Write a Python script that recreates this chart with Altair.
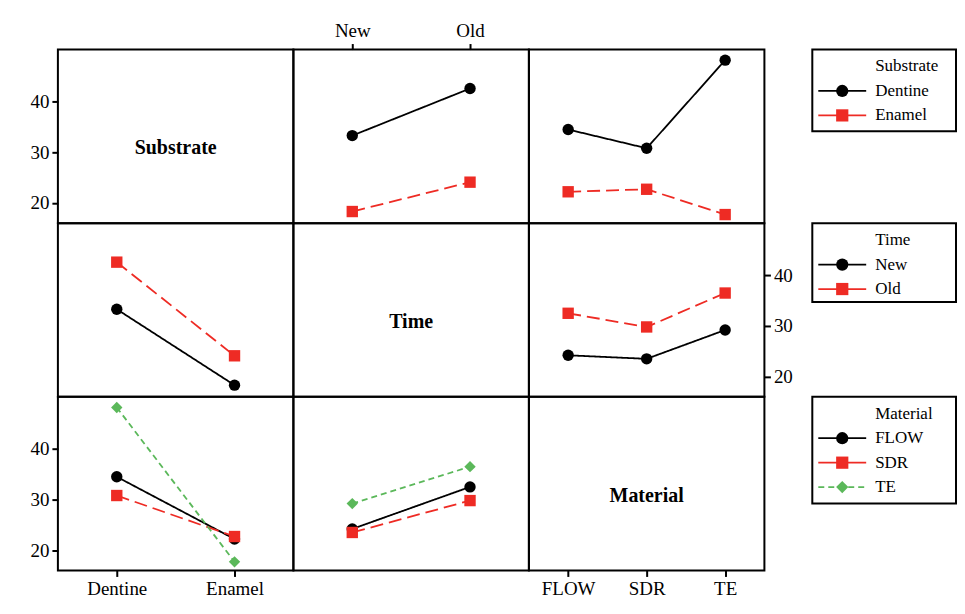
import altair as alt
import pandas as pd

# ---- categories ----
substrate = ["Dentine", "Enamel"]
time_lv = ["New", "Old"]
material = ["FLOW", "SDR", "TE"]

# ---- interaction means ----
dentine_by_time = [33.3, 42.6]
enamel_by_time = [18.3, 24.1]
dentine_by_material = [34.5, 30.8, 48.2]
enamel_by_material = [22.2, 22.7, 17.7]
new_by_material = [24.2, 23.5, 29.2]
old_by_material = [32.5, 29.8, 36.5]

y_ticks = [20, 30, 40]
y_domain = [16, 50.3]

series_domain = ["Dentine", "Enamel", "New", "Old", "FLOW", "SDR", "TE"]
BLACK, RED, GREEN = "#000000", "#ee2b24", "#5bb85a"
color_range = [BLACK, RED, BLACK, RED, BLACK, RED, GREEN]
shape_range = ["circle", "square", "circle", "square", "circle", "square", "diamond"]
dash_range = [[1, 0], [13, 6], [1, 0], [13, 6], [1, 0], [13, 6], [6, 4]]

FONT = "Liberation Serif"
W, H = 236, 174

# ---- long tables ----
st_rows = []
for s, vals in zip(substrate, [dentine_by_time, enamel_by_time]):
    for t, v in zip(time_lv, vals):
        st_rows.append({"Substrate": s, "Time": t, "Mean": v})
st = pd.DataFrame(st_rows)

sm_rows = []
for s, vals in zip(substrate, [dentine_by_material, enamel_by_material]):
    for m, v in zip(material, vals):
        sm_rows.append({"Substrate": s, "Material": m, "Mean": v})
sm = pd.DataFrame(sm_rows)

tm_rows = []
for t, vals in zip(time_lv, [new_by_material, old_by_material]):
    for m, v in zip(material, vals):
        tm_rows.append({"Time": t, "Material": m, "Mean": v})
tm = pd.DataFrame(tm_rows)

levels = {"Substrate": substrate, "Time": time_lv, "Material": material}

color_scale = alt.Scale(domain=series_domain, range=color_range)
shape_scale = alt.Scale(domain=series_domain, range=shape_range)
dash_scale = alt.Scale(domain=series_domain, range=dash_range)


def x_axis(orient):
    if orient is None:
        return None
    return alt.Axis(orient=orient, title=None, domain=False, grid=False, ticks=True,
                    tickSize=6, tickWidth=2, tickColor="black", labelAngle=0,
                    labelFont=FONT, labelFontSize=19, labelColor="black", labelPadding=3)


def y_axis(orient):
    if orient is None:
        return None
    return alt.Axis(orient=orient, title=None, domain=False, grid=False, values=y_ticks,
                    tickSize=6, tickWidth=2, tickColor="black",
                    labelFont=FONT, labelFontSize=19, labelColor="black", labelPadding=3)


def y_enc(orient=None):
    return alt.Y("Mean:Q", scale=alt.Scale(domain=y_domain, nice=False, zero=False),
                 axis=y_axis(orient))


def interaction(df, xvar, svar, xorient=None, yorient=None):
    xe = alt.X(f"{xvar}:N", sort=levels[xvar],
               scale=alt.Scale(type="point", padding=0.5, domain=levels[xvar]),
               axis=x_axis(xorient))
    base = alt.Chart(df).transform_calculate(series=f"datum['{svar}']")
    line = base.mark_line(strokeWidth=1.8).encode(
        x=xe, y=y_enc(yorient),
        color=alt.Color("series:N", scale=color_scale, legend=None),
        strokeDash=alt.StrokeDash("series:N", scale=dash_scale, legend=None),
    )
    pts = base.mark_point(filled=True, opacity=1, size=130).encode(
        x=xe, y=y_enc(yorient),
        color=alt.Color("series:N", scale=color_scale, legend=None),
        shape=alt.Shape("series:N", scale=shape_scale, legend=None),
    )
    return alt.layer(line, pts).properties(width=W, height=H)


def diagonal(name, df, xorient=None, yorient=None):
    xe = alt.X(f"{name}:N", sort=levels[name],
               scale=alt.Scale(type="point", padding=0.5, domain=levels[name]),
               axis=x_axis(xorient))
    carrier = alt.Chart(df).mark_point(opacity=0).encode(x=xe, y=y_enc(yorient))
    label = alt.Chart(pd.DataFrame({"label": [name]})).mark_text(
        font=FONT, fontSize=20, fontWeight="bold", color="black"
    ).encode(text="label:N", x=alt.value(W / 2), y=alt.value(H / 2 + 12))
    return alt.layer(carrier, label).properties(width=W, height=H)


def legend_panel(title, cats, height):
    n = len(cats)
    ysc = alt.Scale(domain=[0, n], range=[17, 17 + 24.5 * n])
    items = pd.DataFrame({"series": cats, "idx": list(range(1, n + 1))})
    ttl = pd.DataFrame({"label": [title], "idx": [0]})
    t = alt.Chart(ttl).mark_text(font=FONT, fontSize=17, align="left", color="black").encode(
        x=alt.value(63), y=alt.Y("idx:Q", scale=ysc, axis=None), text="label:N")
    r = alt.Chart(items).mark_rule(strokeWidth=1.8).encode(
        x=alt.value(6), x2=alt.value(54), y=alt.Y("idx:Q", scale=ysc, axis=None),
        color=alt.Color("series:N", scale=color_scale, legend=None),
        strokeDash=alt.condition("datum.series == 'TE'", alt.value([6, 4]), alt.value([1, 0])))
    p = alt.Chart(items).mark_point(filled=True, opacity=1, size=150).encode(
        x=alt.value(30), y=alt.Y("idx:Q", scale=ysc, axis=None),
        color=alt.Color("series:N", scale=color_scale, legend=None),
        shape=alt.Shape("series:N", scale=shape_scale, legend=None))
    lb = alt.Chart(items).mark_text(font=FONT, fontSize=17, align="left", color="black").encode(
        x=alt.value(63), y=alt.Y("idx:Q", scale=ysc, axis=None), text="series:N")
    return alt.layer(t, r, p, lb).properties(width=144, height=height)


def spacer():
    return alt.Chart(pd.DataFrame({"v": [0]})).mark_point(opacity=0).encode(
        x=alt.value(0), y=alt.value(0)
    ).properties(width=48, height=10, view=alt.ViewBackground(stroke="transparent"))


cells = [
    diagonal("Substrate", st, yorient="left"),
    interaction(st, "Time", "Substrate", xorient="top"),
    interaction(sm, "Material", "Substrate"),
    spacer(),
    legend_panel("Substrate", substrate, 82),

    interaction(st, "Substrate", "Time"),
    diagonal("Time", st),
    interaction(tm, "Material", "Time", yorient="right"),
    spacer(),
    legend_panel("Time", time_lv, 79),

    interaction(sm, "Substrate", "Material", xorient="bottom", yorient="left"),
    interaction(tm, "Time", "Material"),
    diagonal("Material", tm, xorient="bottom"),
    spacer(),
    legend_panel("Material", material, 107),
]

chart = alt.concat(*cells, columns=5, spacing=0, bounds="flush").properties(
    padding={"left": 21, "top": 12, "right": 0, "bottom": 4}
).configure(background="white").configure_view(stroke="black", strokeWidth=2)

chart.save("out.html", embed_options={"renderer": "svg", "actions": False})
